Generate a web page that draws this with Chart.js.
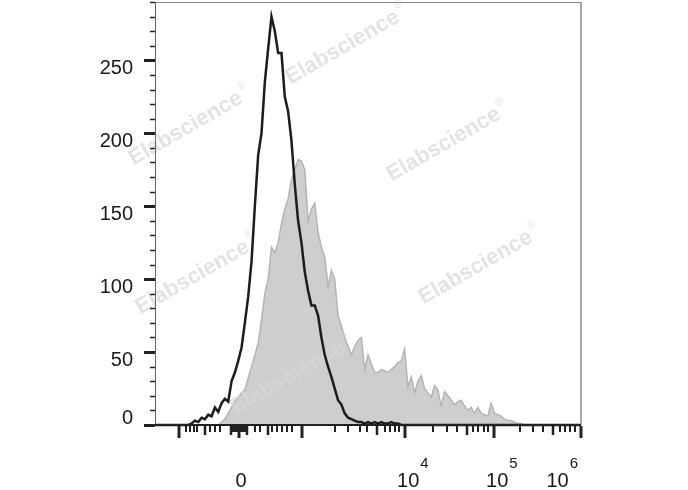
<!DOCTYPE html>
<html><head><meta charset="utf-8">
<script src="https://cdn.jsdelivr.net/npm/chart.js@4.4.1/dist/chart.umd.min.js"></script>
<style>html,body{margin:0;padding:0;background:#fff;}#wrap{width:688px;height:490px;position:relative;}</style>
</head><body><div id="wrap"><canvas id="c"></canvas></div>
<script>
// x axis: instrument channel (logicle display, 0..1024)
const channels = [0,8,16,24,32,40,48,56,64,72,80,88,96,104,112,120,128,136,144,152,160,168,176,184,192,200,208,216,224,232,240,248,256,264,272,280,288,296,304,312,320,328,336,344,352,360,368,376,384,392,400,408,416,424,432,440,448,456,464,472,480,488,496,504,512,520,528,536,544,552,560,568,576,584,592,600,608,616,624,632,640,648,656,664,672,680,688,696,704,712,720,728,736,744,752,760,768,776,784,792,800,808,816,824,832,840,848,856,864,872,880,888,896,904,912,920,928,936,944,952,960,968,976,984,992,1000,1008,1016,1024];
// black open histogram (control)
const controlCounts = [0,0,0,0,0,0,0,0,0,0,0,1,3,2,5,4,7,6,12,9,15,18,16,30,36,44,53,70,88,112,150,185,200,235,258,280,270,255,255,225,215,195,165,140,125,105,92,82,82,75,60,48,40,33,25,17,14,8,5,4,3,2,2,1,2,1,2,1,2,1,1,2,1,1,0,0,0,0,0,0,0,0,0,0,0,0,0,0,0,0,0,0,0,0,0,0,0,0,0,0,0,0,0,0,0,0,0,0,0,0,0,0,0,0,0,0,0,0,0,0,0,0,0,0,0,0,0,0,0];
// grey filled histogram (stained)
const stainedCounts = [0,0,0,0,0,0,0,0,0,0,0,0,0,0,0,0,0,0,0,0,2,4,8,12,16,19,22,24,32,40,48,56,72,90,100,122,118,125,138,148,155,168,175,182,181,175,140,148,152,132,122,115,95,106,100,75,68,60,54,48,54,58,60,38,48,42,36,36,38,37,36,38,40,43,44,52,26,33,22,30,34,25,22,19,27,24,13,23,20,17,14,16,17,13,10,12,8,12,8,7,6,15,8,7,6,4,3,3,2,1,1,0,0,0,0,0,0,0,0,0,0,0,0,0,0,0,0,0,0];

// y axis
const yMax = 290;
const yMajorStep = 50;
const yMinorStep = 10;
// x axis ticks (channel positions)
const xMajorTicks = [58, 202, 353, 601, 815, 1024];
const xMediumTicks = [120, 183, 221, 272, 534, 750, 957];
const xMinorTicks = [74, 84, 94, 101, 132, 144, 156, 187, 192, 197, 207, 211, 216, 240, 252, 281, 293, 305, 317, 329, 433, 464, 493, 510, 553, 565, 577, 587, 668, 702, 726, 764, 776, 791, 800, 877, 909, 933, 974, 986, 998, 1010];
const xLabelPositions = [202, 601, 815, 1024];
const xLabelBases = ['0', '10', '10', '10'];
const xLabelExps = ['', '4', '5', '6'];

const watermarkCenters = [[190,126],[347,45],[448,142],[480,265],[197,275],[292,375]];
const FONT = '"Liberation Sans", Arial, sans-serif';

function drawWatermark(ctx, cx, cy) {
  ctx.save();
  ctx.translate(cx, cy);
  ctx.rotate(-30 * Math.PI / 180);
  ctx.font = 'bold 22px ' + FONT;
  const w1 = ctx.measureText('Elabscience').width;
  ctx.font = '11px ' + FONT;
  const w2 = ctx.measureText('®').width;
  const total = w1 + 2 + w2;
  ctx.fillStyle = 'rgba(215,215,215,0.7)';
  ctx.textBaseline = 'middle';
  ctx.textAlign = 'left';
  ctx.font = 'bold 22px ' + FONT;
  ctx.fillText('Elabscience', -total / 2, 0);
  ctx.font = '11px ' + FONT;
  ctx.fillText('®', -total / 2 + w1 + 2, -9);
  ctx.restore();
}

const decor = {
  id: 'decor',
  afterDatasetDraw(chart, args) {
    if (args.index === 1) {
      for (const [x, y] of watermarkCenters) drawWatermark(chart.ctx, x, y);
    }
  },
  afterDraw(chart) {
    const ctx = chart.ctx;
    const a = chart.chartArea;
    const xs = chart.scales.x, ys = chart.scales.y;
    ctx.save();
    // frame
    ctx.strokeStyle = '#8c8c8c';
    ctx.lineWidth = 1;
    ctx.beginPath(); ctx.moveTo(a.left, a.top + 0.5); ctx.lineTo(a.right, a.top + 0.5); ctx.stroke();
    ctx.lineWidth = 1.5;
    ctx.beginPath(); ctx.moveTo(a.right, a.top); ctx.lineTo(a.right, a.bottom); ctx.stroke();
    ctx.strokeStyle = '#666';
    ctx.lineWidth = 1;
    ctx.beginPath(); ctx.moveTo(a.left + 0.5, a.top); ctx.lineTo(a.left + 0.5, a.bottom); ctx.stroke();
    ctx.strokeStyle = '#222';
    ctx.lineWidth = 2;
    ctx.beginPath(); ctx.moveTo(a.left, a.bottom); ctx.lineTo(a.right, a.bottom); ctx.stroke();

    // y ticks
    ctx.strokeStyle = '#222';
    for (let v = 0; v <= yMax; v += yMinorStep) {
      const py = Math.round(ys.getPixelForValue(v)) + 0.5;
      const major = v % yMajorStep === 0;
      ctx.lineWidth = major ? 3 : 1.5;
      ctx.beginPath();
      ctx.moveTo(a.left - (major ? 11 : 5), py);
      ctx.lineTo(a.left, py);
      ctx.stroke();
      if (major) {
        ctx.fillStyle = '#1a1a1a';
        ctx.font = '20px ' + FONT;
        ctx.textAlign = 'right';
        ctx.textBaseline = 'middle';
        ctx.fillText(String(v), a.left - 22, Math.min(py + 8, a.bottom - 7));
      }
    }
    // x ticks
    const drawX = (list, len, w) => {
      ctx.lineWidth = w;
      for (const c of list) {
        const px = Math.round(xs.getPixelForValue(c));
        ctx.beginPath();
        ctx.moveTo(px, a.bottom + 1);
        ctx.lineTo(px, a.bottom + len);
        ctx.stroke();
      }
    };
    drawX(xMinorTicks, 7, 2);
    drawX(xMediumTicks, 10, 2.5);
    drawX(xMajorTicks, 13, 3);
    // x labels
    ctx.fillStyle = '#1a1a1a';
    ctx.textAlign = 'left';
    ctx.textBaseline = 'alphabetic';
    xLabelPositions.forEach((c, i) => {
      const px = xs.getPixelForValue(c);
      ctx.font = '20px ' + FONT;
      const wb = ctx.measureText(xLabelBases[i]).width;
      ctx.font = '15px ' + FONT;
      const we = xLabelExps[i] ? ctx.measureText(xLabelExps[i]).width : 0;
      let left;
      if (!xLabelExps[i]) {
        left = px + 2 - wb / 2;
      } else {
        left = px - 8;
        const total = wb + 1 + we;
        if (left + total > a.right - 3) left = a.right - 3 - total;
      }
      ctx.font = '20px ' + FONT;
      ctx.fillText(xLabelBases[i], left, 487);
      if (xLabelExps[i]) {
        ctx.font = '15px ' + FONT;
        ctx.fillText(xLabelExps[i], left + wb + 1, 468);
      }
    });
    ctx.restore();
  }
};

new Chart(document.getElementById('c'), {
  type: 'line',
  data: {
    datasets: [
      {
        label: 'Control',
        data: channels.map((c, i) => ({ x: c, y: controlCounts[i] })),
        borderColor: '#1c1c1c',
        borderWidth: 2.5,
        pointRadius: 0,
        fill: false,
        tension: 0,
        order: 0,
        clip: 6
      },
      {
        label: 'Stained',
        data: channels.map((c, i) => ({ x: c, y: stainedCounts[i] })),
        borderColor: '#b4b4b4',
        backgroundColor: '#cecece',
        borderWidth: 1.5,
        pointRadius: 0,
        fill: 'origin',
        tension: 0,
        order: 1,
        clip: 6
      }
    ]
  },
  options: {
    responsive: true,
    maintainAspectRatio: false,
    animation: false,
    layout: { padding: { left: 0, right: 107, top: 2, bottom: 0 } },
    plugins: { legend: { display: false }, tooltip: { enabled: false } },
    scales: {
      x: {
        type: 'linear', min: 0, max: 1024,
        grid: { display: false, drawTicks: false },
        border: { display: false },
        ticks: { display: false },
        afterFit: (s) => { s.height = 65; }
      },
      y: {
        type: 'linear', min: 0, max: yMax,
        grid: { display: false, drawTicks: false },
        border: { display: false },
        ticks: { display: false },
        afterFit: (s) => { s.width = 155; }
      }
    }
  },
  plugins: [decor]
});
</script>
</body></html>
